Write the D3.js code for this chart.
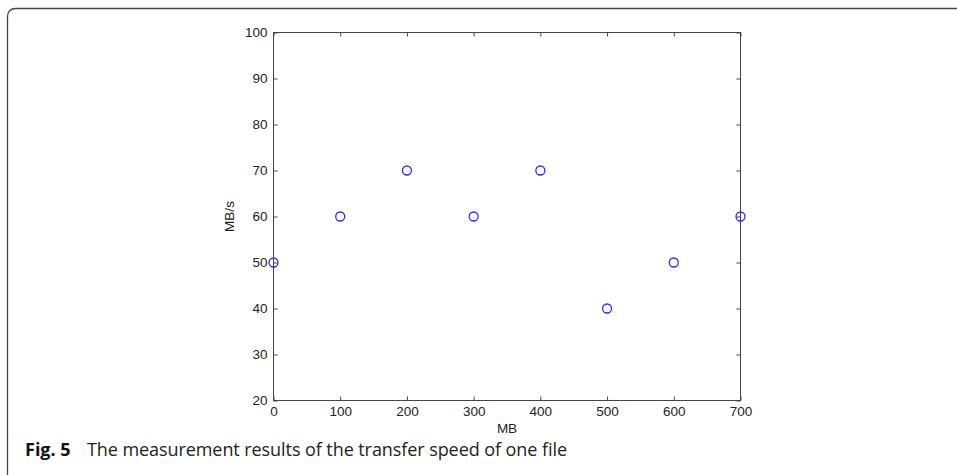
<!DOCTYPE html>
<html><head><meta charset="utf-8">
<script src="https://cdn.jsdelivr.net/npm/d3@7"></script>
<style>body{margin:0;background:#fff}svg{display:block}</style>
</head><body>
<svg id="c" width="957" height="475"></svg>
<script>
const xValues = [0, 100, 200, 300, 400, 500, 600, 700];
const yValues = [50, 60, 70, 60, 70, 40, 50, 60];
const xTicks = [0, 100, 200, 300, 400, 500, 600, 700];
const yTicks = [20, 30, 40, 50, 60, 70, 80, 90, 100];
const xLabel = "MB";
const yLabel = "MB/s";
const captionBold = "Fig. 5";
const captionText = "The measurement results of the transfer speed of one file";

const svg = d3.select("#c");
// frame
svg.append("path").attr("d","M7.5,475 L7.5,17 Q7.5,8.5 16,8.5 L957,8.5")
  .attr("fill","none").attr("stroke","#444").attr("stroke-width",1.3);

const L=273.5, R=740.5, T=32.5, B=400.5;
const x = d3.scaleLinear().domain([0,700]).range([L,R]);
const y = d3.scaleLinear().domain([20,100]).range([B,T]);
const axisColor="#444";
const font="'Liberation Sans', Arial, sans-serif";

const g = svg.append("g");
g.append("rect").attr("x",L).attr("y",T).attr("width",R-L).attr("height",B-T)
  .attr("fill","none").attr("stroke",axisColor).attr("stroke-width",1);

function styleAxis(sel, showText){
  sel.select(".domain").remove();
  sel.selectAll("line").attr("stroke",axisColor);
  sel.selectAll("text").attr("fill","#222").style("font-family",font).style("font-size","13.5px");
  if(!showText) sel.selectAll("text").remove();
}
g.append("g").attr("transform",`translate(0,${B})`)
  .call(d3.axisBottom(x).tickValues(xTicks).tickSize(-4).tickPadding(6).tickFormat(d3.format("d")))
  .call(s=>styleAxis(s,true));
g.append("g").attr("transform",`translate(0,${T})`)
  .call(d3.axisTop(x).tickValues(xTicks).tickSize(-4))
  .call(s=>styleAxis(s,false));
g.append("g").attr("transform",`translate(${L},0)`)
  .call(d3.axisLeft(y).tickValues(yTicks).tickSize(-4).tickPadding(6).tickFormat(d3.format("d")))
  .call(s=>styleAxis(s,true));
g.append("g").attr("transform",`translate(${R},0)`)
  .call(d3.axisRight(y).tickValues(yTicks).tickSize(-4))
  .call(s=>styleAxis(s,false));

// labels
svg.append("text").attr("x",(L+R)/2).attr("y",433).attr("text-anchor","middle")
  .style("font-family",font).style("font-size","13.5px").attr("fill","#222").text(xLabel);
svg.append("text").attr("transform",`translate(234,${(T+B)/2}) rotate(-90)`).attr("text-anchor","middle")
  .style("font-family",font).style("font-size","13.5px").attr("fill","#222").text(yLabel);

// points
svg.append("g").selectAll("circle").data(xValues.map((d,i)=>[d,yValues[i]])).join("circle")
  .attr("cx",d=>x(d[0])).attr("cy",d=>y(d[1])).attr("r",4.5)
  .attr("fill","none").attr("stroke","#2a2aff").attr("stroke-width",1.3);

// caption
const capFont="'Open Sans', 'Noto Sans', sans-serif";
svg.append("text").attr("x",25).attr("y",456).attr("font-weight","bold")
  .style("font-family",capFont).style("font-size","18px").attr("fill","#111").text(captionBold);
svg.append("text").attr("x",87).attr("y",456).attr("textLength",480).attr("lengthAdjust","spacing")
  .style("font-family",capFont).style("font-size","18px").attr("fill","#222").text(captionText);
</script>
</body></html>
